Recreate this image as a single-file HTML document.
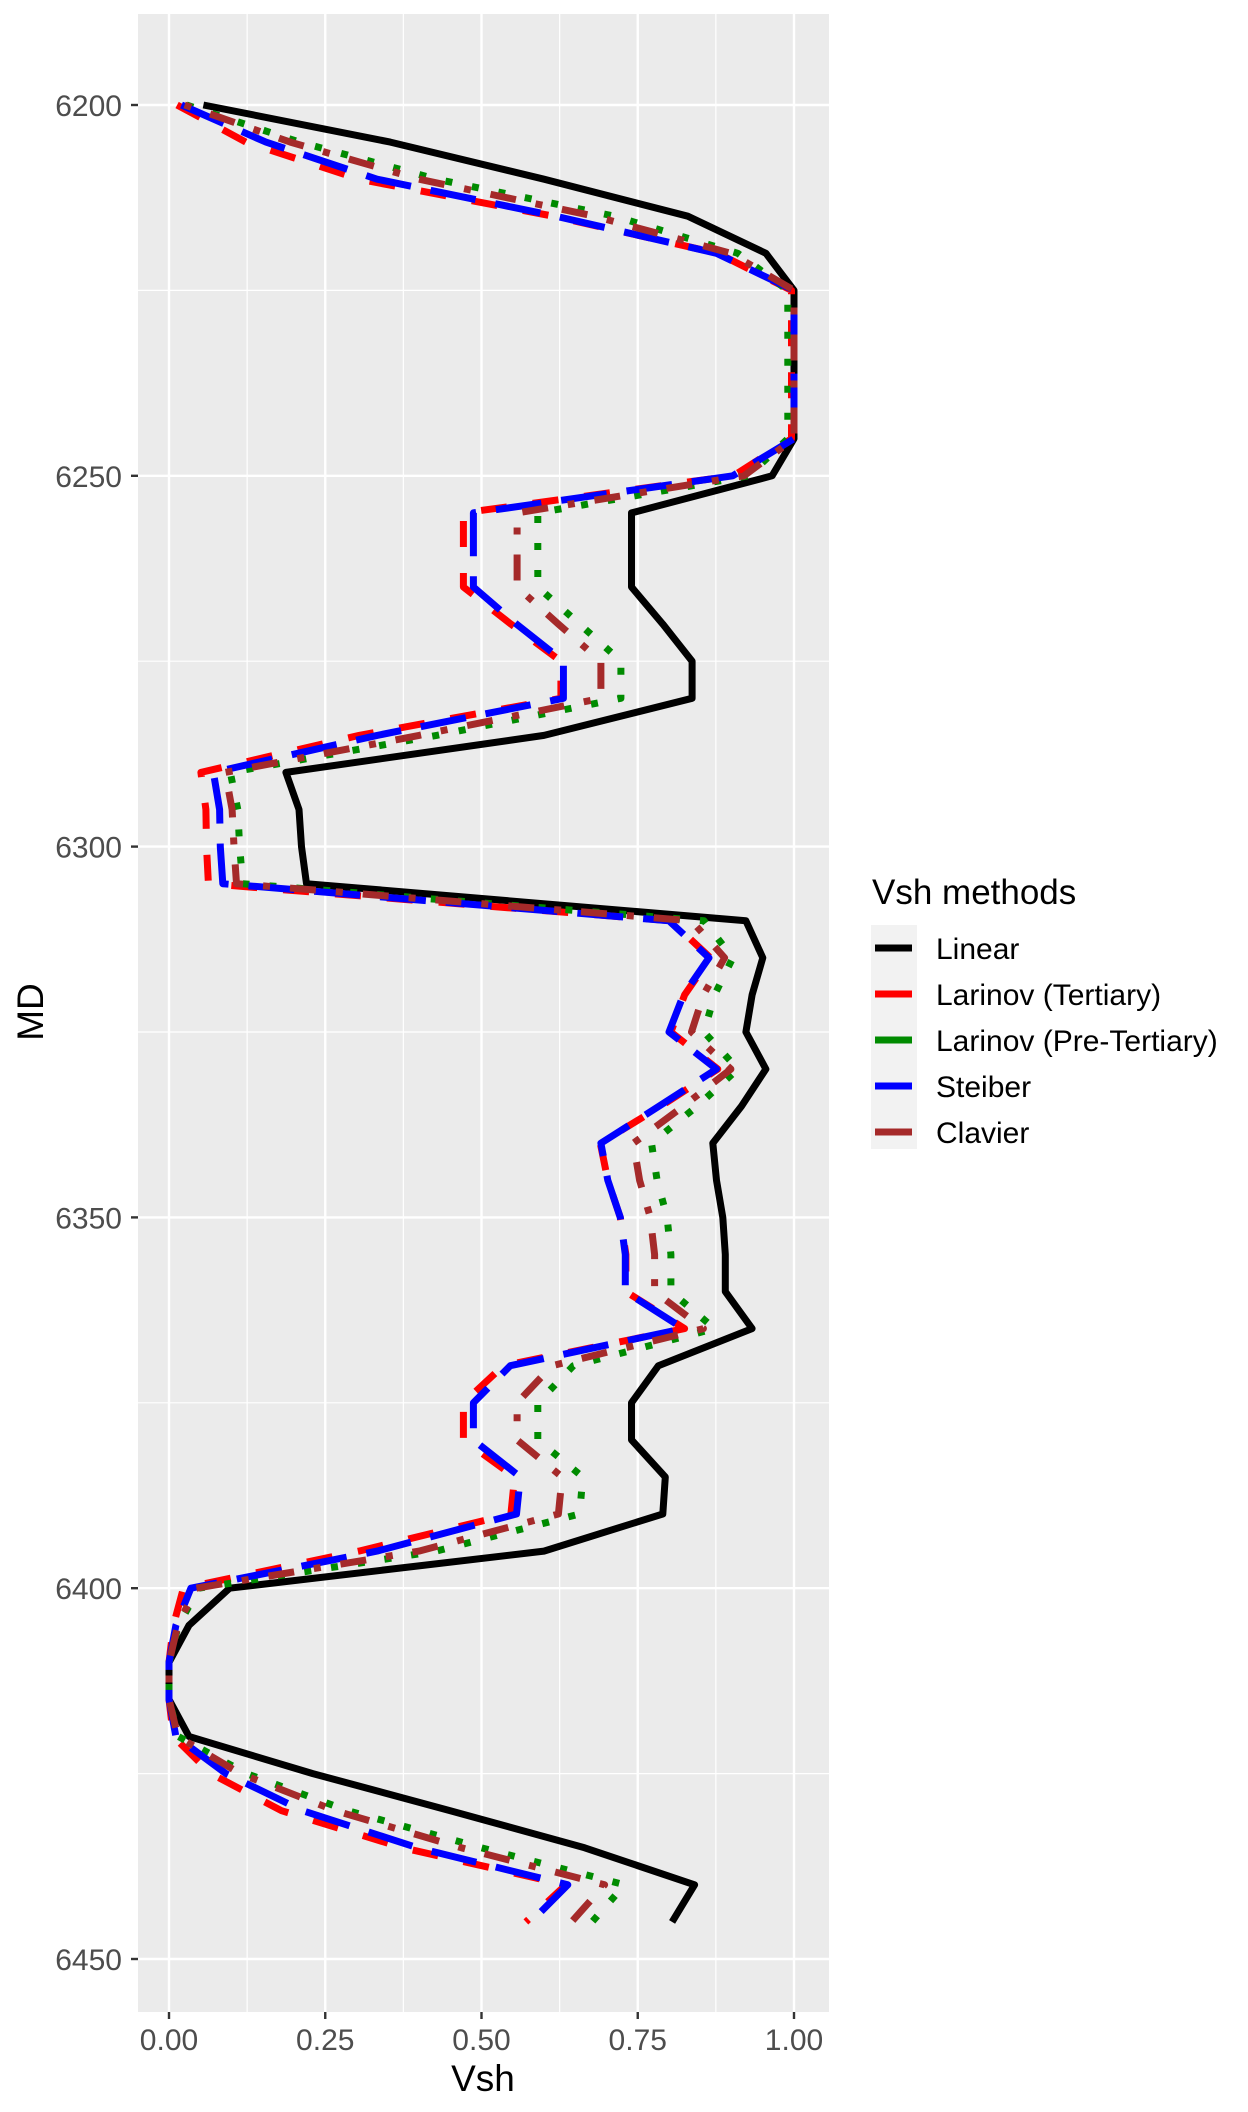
<!DOCTYPE html>
<html><head><meta charset="utf-8"><style>
html,body{margin:0;padding:0;background:#fff;}
svg{display:block;font-family:"Liberation Sans",sans-serif;}
</style></head><body>
<svg id="chart" width="1248" height="2112" viewBox="0 0 1248 2112" xmlns="http://www.w3.org/2000/svg">
<rect x="0" y="0" width="1248" height="2112" fill="#fff"/>
<rect x="138" y="14" width="691" height="1998" fill="#EBEBEB"/>
<g id="grid"></g>
<g id="series"></g>
<g id="axes"></g>
<text x="483" y="2091" font-size="37" text-anchor="middle" fill="#000">Vsh</text>
<text transform="translate(43,1012) rotate(-90)" font-size="37" text-anchor="middle" fill="#000">MD</text>
<g id="legend">
<text x="872" y="904" font-size="35" fill="#000">Vsh methods</text>
<rect x="871" y="925" width="46" height="224" fill="#F2F2F2"/>
</g>
</svg>
<script>
const depths = [6200,6205,6210,6215,6220,6225,6230,6235,6240,6245,6250,6255,6260,6265,6270,6275,6280,6285,6290,6295,6300,6305,6310,6315,6320,6325,6330,6335,6340,6345,6350,6355,6360,6365,6370,6375,6380,6385,6390,6395,6400,6405,6410,6415,6420,6425,6430,6435,6440,6445];
const linear = [0.055,0.354,0.60,0.83,0.955,1.0,1.0,1.0,1.0,1.0,0.965,0.74,0.74,0.74,0.79,0.837,0.837,0.60,0.187,0.208,0.212,0.22,0.923,0.95,0.933,0.923,0.955,0.916,0.87,0.876,0.886,0.89,0.89,0.933,0.783,0.74,0.74,0.794,0.79,0.60,0.097,0.032,0.0,0.0,0.032,0.23,0.45,0.665,0.841,0.805];
const larTertiary = [0.013,0.123,0.304,0.615,0.878,0.996,0.996,0.996,0.996,0.996,0.903,0.471,0.471,0.471,0.547,0.627,0.627,0.304,0.051,0.059,0.060,0.063,0.803,0.866,0.825,0.803,0.878,0.787,0.690,0.702,0.722,0.731,0.731,0.825,0.535,0.471,0.471,0.553,0.547,0.304,0.023,0.007,0.0,0.0,0.007,0.067,0.180,0.374,0.635,0.571];
const larPreTertiary = [0.028,0.209,0.428,0.713,0.910,0.990,0.990,0.990,0.990,0.990,0.927,0.590,0.590,0.590,0.657,0.723,0.723,0.428,0.098,0.110,0.113,0.118,0.856,0.902,0.873,0.856,0.910,0.845,0.772,0.781,0.797,0.803,0.803,0.873,0.647,0.590,0.590,0.662,0.657,0.428,0.048,0.015,0.0,0.0,0.015,0.124,0.286,0.500,0.729,0.677];
const steiber = [0.020,0.155,0.333,0.619,0.876,1.0,1.0,1.0,1.0,1.0,0.902,0.487,0.487,0.487,0.556,0.631,0.631,0.333,0.071,0.081,0.082,0.086,0.800,0.864,0.823,0.800,0.876,0.784,0.691,0.702,0.722,0.730,0.730,0.823,0.546,0.487,0.487,0.562,0.556,0.333,0.035,0.011,0.0,0.0,0.011,0.091,0.214,0.398,0.638,0.579];
const clavier = [0.025,0.194,0.400,0.681,0.899,1.0,1.0,1.0,1.0,1.0,0.920,0.557,0.557,0.557,0.623,0.691,0.691,0.400,0.090,0.101,0.104,0.108,0.836,0.889,0.855,0.836,0.899,0.823,0.743,0.753,0.770,0.777,0.777,0.855,0.613,0.557,0.557,0.629,0.623,0.400,0.043,0.014,0.0,0.0,0.014,0.114,0.266,0.468,0.697,0.644];
const seriesNames = ["Linear","Larinov (Tertiary)","Larinov (Pre-Tertiary)","Steiber","Clavier"];
const xTicks = [0,0.25,0.5,0.75,1.0];
const xTickLabels = ["0.00","0.25","0.50","0.75","1.00"];
const yTicks = [6200,6250,6300,6350,6400,6450];
const yTickLabels = ["6200","6250","6300","6350","6400","6450"];

const NS = "http://www.w3.org/2000/svg";
const PX0 = 138, PX1 = 829, PY0 = 14, PY1 = 2012;
function xScale(v){ return 169 + v * 625; }
function yScale(d){ return 105 + (d - 6200) * (1854 / 250); }
function mk(tag, attrs, parent){ const e = document.createElementNS(NS, tag); for (const k in attrs) e.setAttribute(k, attrs[k]); parent.appendChild(e); return e; }

const grid = document.getElementById('grid');
const axes = document.getElementById('axes');
[0.125,0.375,0.625,0.875].forEach(v => {
  const l = mk('line', {x1: xScale(v), x2: xScale(v), y1: PY0, y2: PY1, stroke: '#fff', 'stroke-width': 1.2}, grid);
  
  
});
[6225,6275,6325,6375,6425].forEach(d => {
  const l = mk('line', {x1: PX0, x2: PX1, y1: yScale(d), y2: yScale(d), stroke: '#fff', 'stroke-width': 1.2}, grid);
  
  
});
xTicks.forEach((v, i) => {
  const x = xScale(v);
  const g = mk('line', {x1: x, x2: x, y1: PY0, y2: PY1, stroke: '#fff', 'stroke-width': 2.4}, grid);
  
  
  const t = mk('line', {x1: x, x2: x, y1: PY1, y2: PY1 + 7, stroke: '#333', 'stroke-width': 2.4}, axes);
  
  
  const lb = mk('text', {x: x, y: 2050, 'font-size': 30, 'text-anchor': 'middle', fill: '#4D4D4D'}, axes);
  lb.textContent = xTickLabels[i];
  
  
});
yTicks.forEach((d, i) => {
  const y = yScale(d);
  const g = mk('line', {x1: PX0, x2: PX1, y1: y, y2: y, stroke: '#fff', 'stroke-width': 2.4}, grid);
  
  
  const t = mk('line', {x1: PX0 - 7, x2: PX0, y1: y, y2: y, stroke: '#333', 'stroke-width': 2.4}, axes);
  
  
  const lb = mk('text', {x: 122, y: y + 11, 'font-size': 30, 'text-anchor': 'end', fill: '#4D4D4D'}, axes);
  lb.textContent = yTickLabels[i];
  
  
});

const seriesData = [linear, larTertiary, larPreTertiary, steiber, clavier];
const colors = ["#000000","#FF0000","#008B00","#0000FF","#A52A2A"];
const dashes = ["none","26 26","7 20","46 20","7 20 26 20"];
const seriesKeys = ["linear-line","larinov-tertiary-line","larinov-pre-tertiary-line","steiber-line","clavier-line"];
const sg = document.getElementById('series');
seriesData.forEach((vals, si) => {
  const pts = vals.map((v, i) => xScale(v).toFixed(1) + ',' + yScale(depths[i]).toFixed(1)).join(' ');
  const pl = mk('polyline', {points: pts, fill: 'none', stroke: colors[si], 'stroke-width': 7, 'stroke-dasharray': dashes[si], 'stroke-linejoin': 'round'}, sg);
  
  
});

const lg = document.getElementById('legend');
seriesNames.forEach((n, i) => {
  const cy = 948 + i * 46;
  const k = mk('line', {x1: 875, x2: 912, y1: cy, y2: cy, stroke: colors[i], 'stroke-width': 7}, lg);
  
  
  const t = mk('text', {x: 936, y: cy + 11, 'font-size': 30, fill: '#000'}, lg);
  t.textContent = n;
  
  
});
</script>
</body></html>
